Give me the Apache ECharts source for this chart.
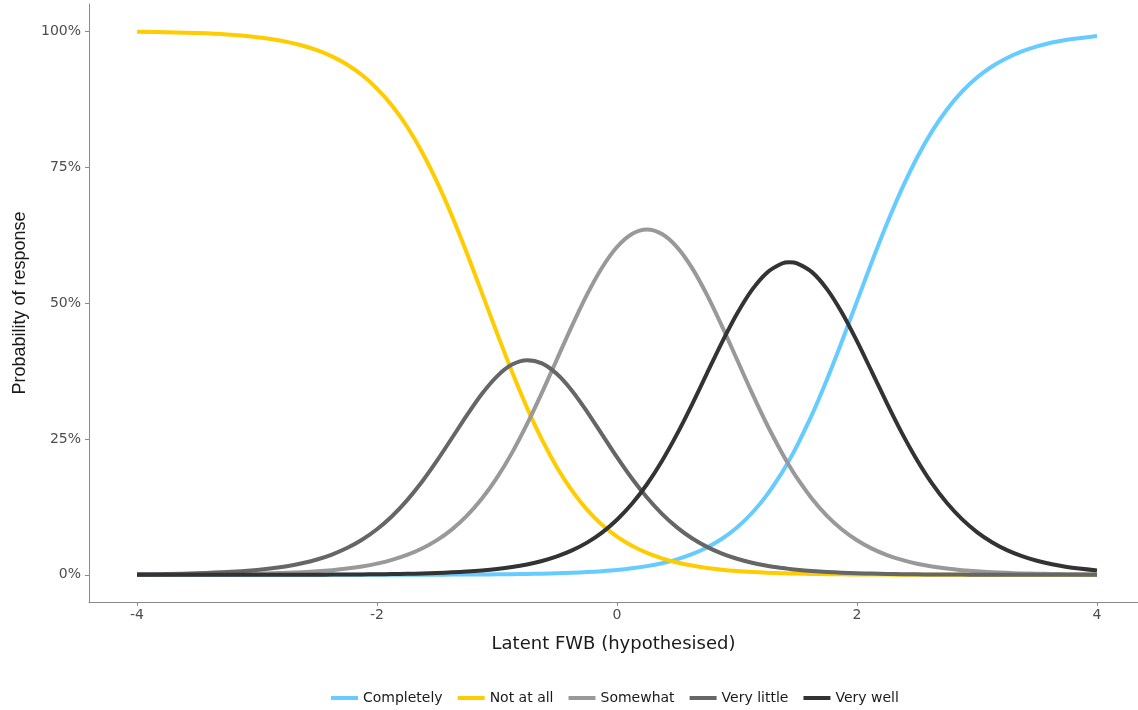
<!DOCTYPE html>
<html>
<head>
<meta charset="utf-8">
<script src="https://cdn.jsdelivr.net/npm/echarts@6/dist/echarts.min.js"></script>
<style>
  html, body { margin: 0; padding: 0; background: #ffffff; }
  #chart { width: 1138px; height: 710px; }
</style>
</head>
<body>
<div id="chart"></div>
<script>
// Latent FWB values (x axis)
const latent = [-4, -3.75, -3.5, -3.25, -3,
  -2.875, -2.75, -2.625, -2.5, -2.375, -2.25, -2.125, -2,
  -1.875, -1.75, -1.625, -1.5, -1.375, -1.25, -1.125, -1,
  -0.875, -0.75, -0.625, -0.5, -0.375, -0.25, -0.125, 0,
  0.125, 0.25, 0.375, 0.5, 0.625, 0.75, 0.875, 1,
  1.125, 1.25, 1.375, 1.4375, 1.5, 1.625, 1.75, 1.875, 2,
  2.125, 2.25, 2.375, 2.5, 2.625, 2.75, 2.875, 3,
  3.125, 3.25, 3.375, 3.5, 3.625, 3.75, 4];

// Probability of response (%) per category
const completely = [0, 0, 0, 0, 0,
  0, 0, 0, 0, 0.01, 0.01, 0.01, 0.01,
  0.01, 0.02, 0.02, 0.03, 0.04, 0.05, 0.06, 0.09,
  0.11, 0.15, 0.21, 0.28, 0.37, 0.5, 0.67, 0.89,
  1.2, 1.6, 2.14, 2.85, 3.79, 5.03, 6.64, 8.72,
  11.37, 14.71, 18.8, 21.16, 23.72, 29.46, 35.94, 42.97, 50.3,
  57.62, 64.61, 71.04, 76.71, 81.57, 85.59, 88.86, 91.47,
  93.5, 95.08, 96.29, 97.21, 97.91, 98.44, 99.13];
const notAtAll = [99.9, 99.81, 99.66, 99.39, 98.9,
  98.53, 98.03, 97.37, 96.51, 95.36, 93.87, 91.93, 89.45,
  86.33, 82.46, 77.78, 72.27, 66.0, 59.1, 51.82, 44.47,
  37.35, 30.75, 24.85, 19.75, 15.48, 12.0, 9.22, 7.03,
  5.33, 4.02, 3.03, 2.27, 1.7, 1.27, 0.95, 0.71,
  0.53, 0.39, 0.29, 0.25, 0.22, 0.16, 0.12, 0.09, 0.07,
  0.05, 0.04, 0.03, 0.02, 0.02, 0.01, 0.01, 0,
  0, 0, 0, 0, 0, 0, 0];
const somewhat = [0.02, 0.03, 0.06, 0.11, 0.2,
  0.27, 0.36, 0.48, 0.64, 0.86, 1.15, 1.54, 2.06,
  2.75, 3.65, 4.83, 6.37, 8.36, 10.88, 14.02, 17.87,
  22.43, 27.7, 33.51, 39.66, 45.79, 51.54, 56.49, 60.3,
  62.7, 63.51, 62.68, 60.28, 56.47, 51.5, 45.75, 39.61,
  33.47, 27.65, 22.4, 20.02, 17.83, 14.0, 10.86, 8.34, 6.36,
  4.82, 3.64, 2.74, 2.05, 1.54, 1.15, 0.86, 0.64,
  0.48, 0.36, 0.26, 0.2, 0.15, 0.11, 0.06];
const veryLittle = [0.09, 0.15, 0.28, 0.5, 0.89,
  1.19, 1.59, 2.12, 2.82, 3.73, 4.92, 6.45, 8.38,
  10.78, 13.7, 17.12, 21.0, 25.17, 29.38, 33.3, 36.51,
  38.67, 39.49, 38.89, 36.93, 33.87, 30.04, 25.85, 21.65,
  17.71, 14.21, 11.21, 8.73, 6.72, 5.14, 3.9, 2.95,
  2.22, 1.67, 1.25, 1.08, 0.93, 0.7, 0.52, 0.39, 0.29,
  0.22, 0.16, 0.12, 0.09, 0.07, 0.05, 0.04, 0.03,
  0.02, 0.02, 0.01, 0.01, 0.01, 0, 0];
const veryWell = [0, 0, 0, 0, 0.01,
  0.01, 0.02, 0.02, 0.03, 0.04, 0.06, 0.07, 0.1,
  0.14, 0.19, 0.25, 0.33, 0.45, 0.6, 0.8, 1.07,
  1.43, 1.91, 2.55, 3.39, 4.49, 5.92, 7.77, 10.13,
  13.06, 16.66, 20.94, 25.87, 31.32, 37.06, 42.76, 48.01,
  52.41, 55.58, 57.26, 57.49, 57.3, 55.68, 52.56, 48.21, 42.98,
  37.29, 31.55, 26.07, 21.13, 16.81, 13.2, 10.24, 7.86,
  6.0, 4.54, 3.43, 2.58, 1.93, 1.44, 0.81];

const seriesNames = ['Completely', 'Not at all', 'Somewhat', 'Very little', 'Very well'];
const seriesValues = [completely, notAtAll, somewhat, veryLittle, veryWell];
const seriesColors = ['#66CCFF', '#FFCC00', '#999999', '#666666', '#333333'];

const xTicks = [-4, -2, 0, 2, 4];
const yTicks = [0, 25, 50, 75, 100];

const chart = echarts.init(document.getElementById('chart'), null, { renderer: 'canvas' });

const axisGrey = '#8a8a8a';
const labelColor = '#4d4d4d';

chart.setOption({
  animation: false,
  backgroundColor: '#ffffff',
  grid: { left: 89, top: 4, width: 1049, height: 598, containLabel: false },
  xAxis: {
    type: 'value',
    min: -4.4,
    max: 4.342,
    name: 'Latent FWB (hypothesised)',
    nameLocation: 'middle',
    nameGap: 33,
    nameTextStyle: { fontFamily: 'DejaVu Sans', fontSize: 18, color: '#1a1a1a' },
    axisLine: { show: true, onZero: false, lineStyle: { color: axisGrey, width: 1 } },
    axisTick: { show: true, length: 4, customValues: xTicks, lineStyle: { color: axisGrey } },
    axisLabel: {
      customValues: xTicks, margin: 6,
      fontFamily: 'DejaVu Sans', fontSize: 14, color: labelColor,
      formatter: v => String(v)
    },
    splitLine: { show: false }
  },
  yAxis: {
    type: 'value',
    min: -5,
    max: 105,
    name: 'Probability of response',
    nameLocation: 'middle',
    nameRotate: 90,
    nameGap: 60,
    nameTextStyle: { fontFamily: 'Liberation Sans', fontSize: 18, color: '#1a1a1a' },
    axisLine: { show: true, onZero: false, lineStyle: { color: axisGrey, width: 1 } },
    axisTick: { show: true, length: 4, customValues: yTicks, lineStyle: { color: axisGrey } },
    axisLabel: {
      customValues: yTicks, margin: 8,
      fontFamily: 'DejaVu Sans', fontSize: 14, color: labelColor,
      formatter: v => v + '%'
    },
    splitLine: { show: false }
  },
  legend: {
    data: seriesNames,
    left: 331,
    top: 691,
    padding: 0,
    icon: 'rect',
    itemWidth: 27,
    itemHeight: 4,
    itemGap: 15,
    textStyle: { fontFamily: 'DejaVu Sans', fontSize: 14, color: '#1a1a1a' }
  },
  series: seriesNames.map((name, i) => ({
    name: name,
    type: 'line',
    data: latent.map((x, j) => [x, seriesValues[i][j]]),
    smooth: 0.3,
    showSymbol: false,
    symbol: 'none',
    lineStyle: { width: 4, color: seriesColors[i], cap: 'butt', join: 'round' },
    itemStyle: { color: seriesColors[i] },
    z: 2 + i
  }))
});
</script>
</body>
</html>
